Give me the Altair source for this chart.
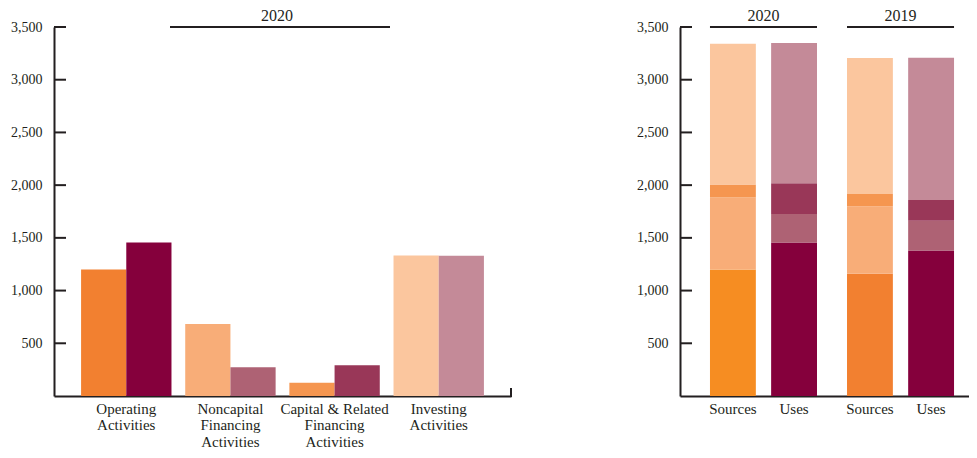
import altair as alt
import pandas as pd

# ---------------- data ----------------
categories = ["Operating Activities", "Noncapital Financing Activities",
              "Capital & Related Financing Activities", "Investing Activities"]
short = ["Operating", "Noncapital", "Capital", "Investing"]
label_lines = [["Operating", "Activities"],
               ["Noncapital", "Financing", "Activities"],
               ["Capital & Related", "Financing", "Activities"],
               ["Investing", "Activities"]]
types = ["Sources", "Uses"]
years = ["2020", "2019"]

sources_2020 = [1200, 682, 125, 1333]
uses_2020 = [1455, 272, 292, 1330]
sources_2019 = [1160, 640, 116, 1290]
uses_2019 = [1380, 283, 196, 1350]

tick_values = [500, 1000, 1500, 2000, 2500, 3000, 3500]

# ---------------- styles ----------------
ink = "#231F20"
FONT = "Liberation Serif"
palette = {
    "Sources Operating": "#F28030",
    "Sources Noncapital": "#F8AD78",
    "Sources Capital": "#F59650",
    "Sources Investing": "#FBC69E",
    "Uses Operating": "#85003C",
    "Uses Noncapital": "#AE6274",
    "Uses Capital": "#993758",
    "Uses Investing": "#C48A98",
    "Sources Operating 2020": "#F68D22",
}
color_scale = alt.Scale(domain=list(palette.keys()), range=list(palette.values()))

# ---------------- tables ----------------
left_rows = []
for i, c in enumerate(categories):
    left_rows.append({"category": c, "type": "Sources", "value": sources_2020[i],
                      "key": "Sources " + short[i]})
    left_rows.append({"category": c, "type": "Uses", "value": uses_2020[i],
                      "key": "Uses " + short[i]})
left_df = pd.DataFrame(left_rows)

right_rows = []
series = {("2020", "Sources"): sources_2020, ("2020", "Uses"): uses_2020,
          ("2019", "Sources"): sources_2019, ("2019", "Uses"): uses_2019}
for (yr, t), vals in series.items():
    for i, s in enumerate(short):
        key = f"{t} {s}"
        if yr == "2020" and t == "Sources" and s == "Operating":
            key = "Sources Operating 2020"
        right_rows.append({"year": yr, "type": t, "cat": s, "idx": i,
                           "value": vals[i], "key": key})
right_df = pd.DataFrame(right_rows)

ticks_df = pd.DataFrame({"v": tick_values})
labels_df = pd.DataFrame([{"year": y, "type": t} for y in years for t in types])
years_df = pd.DataFrame({"year": years})

H = 369
WL = 457
WR = 289

y_scale = alt.Scale(domain=[0, 3500], nice=False, zero=True)
y_axis = alt.Axis(title=None, values=tick_values, format=",.0f", ticks=False,
                  grid=False, domainWidth=2, domainColor=ink, labelPadding=12)

# ---------------- left chart ----------------
expr = "''"
for c, lines in reversed(list(zip(categories, label_lines))):
    arr = "[" + ",".join("'" + l + "'" for l in lines) + "]"
    expr = f"datum.label == '{c}' ? {arr} : ({expr})"

xl_axis = alt.Axis(title=None, ticks=False, domainWidth=2, domainColor=ink,
                   labelAngle=0, labelPadding=5, labelBaseline="top",
                   labelFontSize=15, labelLineHeight=16.5, labelExpr=expr)

left_bars = alt.Chart(left_df).mark_bar().encode(
    x=alt.X("category:N", sort=categories,
            scale=alt.Scale(type="band", paddingInner=0.132, paddingOuter=0.26),
            axis=xl_axis),
    xOffset=alt.XOffset("type:N", sort=types,
                        scale=alt.Scale(type="band", paddingInner=0, paddingOuter=0)),
    y=alt.Y("value:Q", scale=y_scale, axis=y_axis),
    color=alt.Color("key:N", scale=color_scale, legend=None),
)
left_ticks = alt.Chart(ticks_df).mark_rule(color=ink, strokeWidth=2).encode(
    y=alt.Y("v:Q", scale=y_scale, axis=y_axis),
    x=alt.value(0), x2=alt.value(12),
)
left_end = alt.Chart(ticks_df).mark_rule(color=ink, strokeWidth=2).encode(
    x=alt.value(WL), y=alt.value(H - 8), y2=alt.value(H + 1),
)
left_head_line = alt.Chart(years_df).mark_rule(color=ink, strokeWidth=2).encode(
    x=alt.value(116), x2=alt.value(336), y=alt.value(0),
)
left_head_text = alt.Chart(pd.DataFrame({"year": [years[0]]})).mark_text(
    font=FONT, fontSize=16, color=ink, baseline="middle").encode(
    x=alt.value(223), y=alt.value(-11), text="year:N",
)
left = alt.layer(left_bars, left_ticks, left_end, left_head_line, left_head_text).properties(
    width=WL, height=H)

# ---------------- right chart ----------------
xr_scale = alt.Scale(type="band", domain=years, paddingInner=0.219,
                     paddingOuter=0.164, align=0.667)
xr_axis = alt.Axis(title=None, labels=False, ticks=False, domainWidth=2, domainColor=ink)
off_scale = alt.Scale(type="band", paddingInner=0.25, paddingOuter=0)

right_bars = alt.Chart(right_df).mark_bar().encode(
    x=alt.X("year:N", sort=years, scale=xr_scale, axis=xr_axis),
    xOffset=alt.XOffset("type:N", sort=types, scale=off_scale),
    y=alt.Y("value:Q", scale=y_scale, axis=y_axis, stack="zero"),
    color=alt.Color("key:N", scale=color_scale, legend=None),
    order=alt.Order("idx:Q", sort="ascending"),
)
right_ticks = alt.Chart(ticks_df).mark_rule(color=ink, strokeWidth=2).encode(
    y=alt.Y("v:Q", scale=y_scale, axis=y_axis),
    x=alt.value(0), x2=alt.value(12),
)
right_labels = alt.Chart(labels_df).mark_text(
    font=FONT, fontSize=15, color=ink, baseline="top").encode(
    x=alt.X("year:N", sort=years, scale=xr_scale, axis=xr_axis),
    xOffset=alt.XOffset("type:N", sort=types, scale=off_scale),
    y=alt.value(H + 6), text="type:N",
)
right_head_line = alt.Chart(years_df).mark_bar(color=ink).encode(
    x=alt.X("year:N", sort=years, scale=xr_scale, axis=xr_axis),
    y=alt.value(-1), y2=alt.value(1),
)
right_head_text = alt.Chart(years_df).mark_text(
    font=FONT, fontSize=16, color=ink, baseline="middle").encode(
    x=alt.X("year:N", sort=years, scale=xr_scale, axis=xr_axis),
    y=alt.value(-11), text="year:N",
)
right = alt.layer(right_bars, right_ticks, right_labels, right_head_line,
                  right_head_text).properties(width=WR, height=H)

chart = alt.hconcat(left, right, spacing=124).resolve_scale(
    xOffset="independent"
).properties(
    padding={"left": 2, "top": 0, "right": 0, "bottom": 0}
).configure_view(stroke=None).configure_axis(
    labelFont=FONT, labelFontSize=14, labelColor=ink,
).configure_bar(binSpacing=0)

chart.save("out.html", embed_options={"renderer": "svg", "actions": False})
